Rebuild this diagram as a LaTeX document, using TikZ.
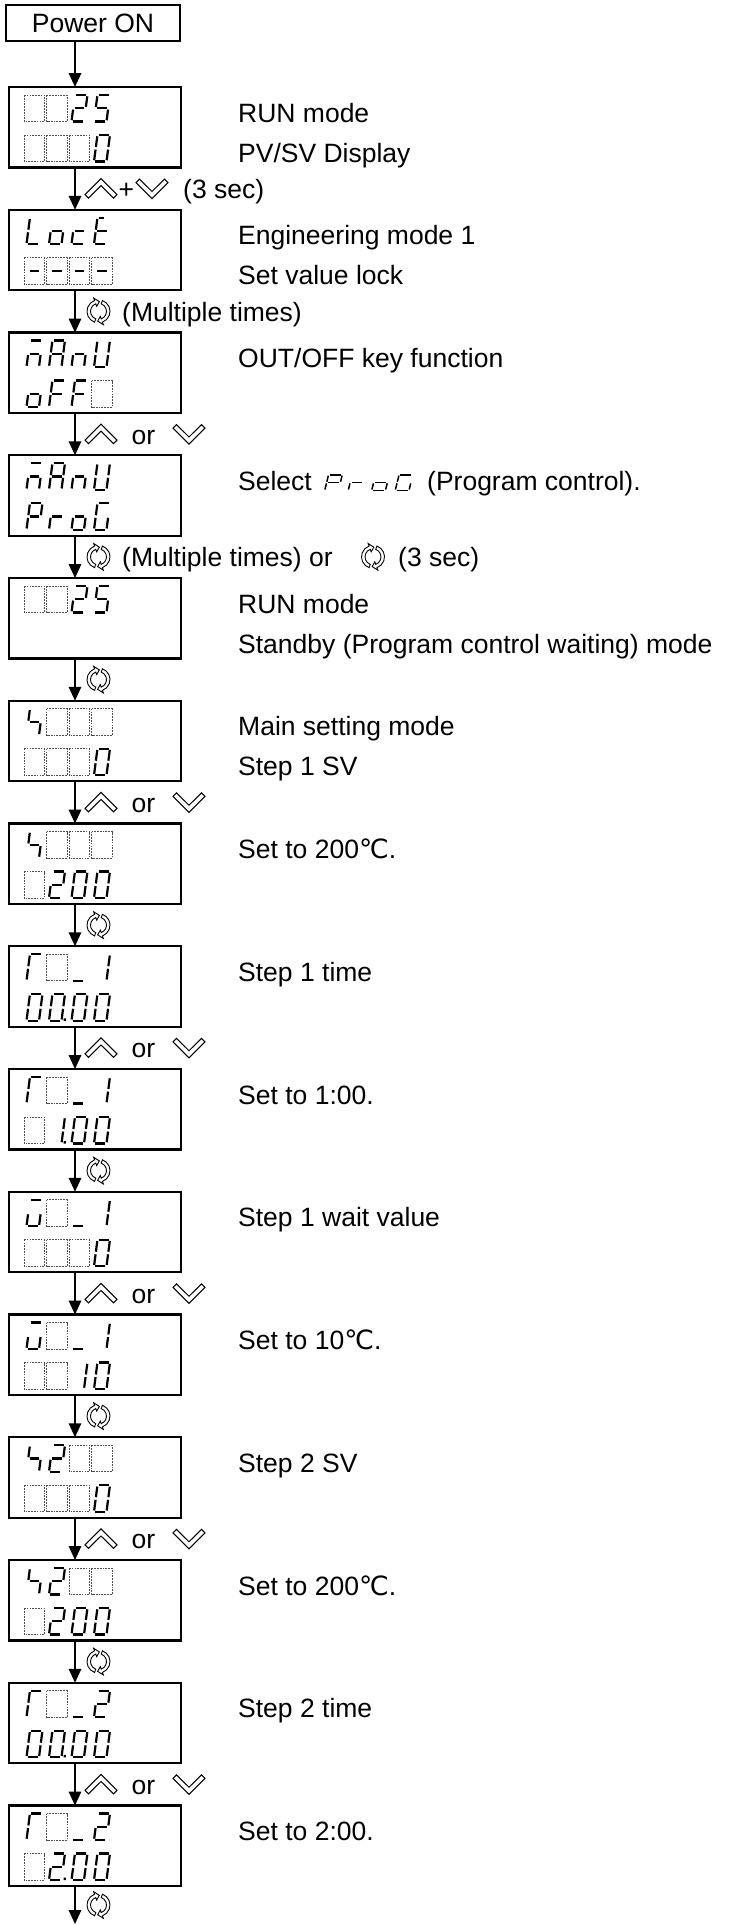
\documentclass[tikz,border=0pt]{standalone}
\usepackage{fontspec}
\setmainfont{Liberation Sans}
\newfontfamily\symfont{DejaVu Sans}
\usetikzlibrary{arrows.meta}
\newcommand\fsz{\fontsize{26.5bp}{30bp}\selectfont}
% seven-segment pieces (local frame: origin at bottom-left of cell, y negative = up)
\newcommand\SGa{\draw[segline] (3.8,-26.5) -- (13.7,-26.5);}
\newcommand\SGb{\draw[segline] (15,-25.2) -- (15,-14.55);}
\newcommand\SGc{\draw[segline] (15,-11.95) -- (15,-1.3);}
\newcommand\SGd{\draw[segline] (3.8,0) -- (13.7,0);}
\newcommand\SGe{\draw[segline] (2.5,-11.95) -- (2.5,-1.3);}
\newcommand\SGf{\draw[segline] (2.5,-25.2) -- (2.5,-14.55);}
\newcommand\SGg{\draw[segline] (3.8,-13.25) -- (13.7,-13.25);}
\newcommand\SGk{\draw[segline] (3.8,-26.5) -- (8.6,-26.5);}
\newcommand\SGp{\fill (17,-2.3) rectangle (19.3,0);}
\newcommand\gyZero{a,b,c,d,e,f}
\newcommand\gyZp{a,b,c,d,e,f,p}
\newcommand\gyOne{b,c}
\newcommand\gyOnep{b,c,p}
\newcommand\gyTwo{a,b,g,e,d}
\newcommand\gyTwop{a,b,g,e,d,p}
\newcommand\gyFive{a,f,g,c,d}
\newcommand\gyL{f,e,d}
\newcommand\gyo{g,c,d,e}
\newcommand\gyc{g,e,d}
\newcommand\gyk{k,f,e,g,d}
\newcommand\gym{a,e,g,c}
\newcommand\gyA{a,b,c,e,f,g}
\newcommand\gyn{e,g,c}
\newcommand\gyU{b,c,d,e,f}
\newcommand\gyF{a,f,g,e}
\newcommand\gyP{a,b,f,g,e}
\newcommand\gyr{e,g}
\newcommand\gyG{a,f,e,d,c}
\newcommand\gyS{f,g,c}
\newcommand\gyt{a,f,e}
\newcommand\gyw{a,e,d,c}
\newcommand\gyus{d}
\newcommand\gydash{g}
% empty (dashed) digit cell and glyph cell
\newcommand\EC[2]{\draw[cellbox] ({24+22.5*#1},#2) rectangle ++(20.5,26.5);}
\newcommand\GC[3]{\begin{scope}[shift={({24+22.5*#1},{#2+26.5})},xslant=0.13]\foreach \segname in #3 {\csname SG\segname\endcsname}\end{scope}}
\newcommand\GI[3]{\begin{scope}[shift={(#1,#2)},xscale=1.1,yscale=0.58,xslant=0.13,segline/.style={line width=1.5bp,line cap=butt}]\foreach \segname in #3 {\csname SG\segname\endcsname}\end{scope}}
\newcommand\setrows[1]{%
  \pgfmathsetmacro\Ttop{87+122.75*(#1-1)}%
  \pgfmathsetmacro\RowA{\Ttop+8}%
  \pgfmathsetmacro\RowB{\Ttop+48}%
  \pgfmathsetmacro\TxA{\Ttop+35}%
  \pgfmathsetmacro\TxB{\Ttop+75}%
  \pgfmathsetmacro\GapY{\Ttop+101.6}%
  \pgfmathsetmacro\GapB{\GapY+10}}
\newcommand\UpOrDown[1]{\pic at (101,\GapY) {upkey}; \node[lbl] (or#1) at (131.5,\GapB) {or}; \pic at (189,\GapY) {dnkey};}
\newcommand\RotOnly{\pic at (98.5,\GapY) {rotkey};}
\tikzset{
  dispbox/.style={draw, line width=2.4bp, minimum width=172bp, minimum height=80.5bp, inner sep=0pt, outer sep=0pt, anchor=north west},
  pwrbox/.style={draw, line width=2.4bp, minimum width=174bp, minimum height=36bp, inner sep=0pt, outer sep=0pt, anchor=north west, font=\fsz},
  conn/.style={line width=1.7bp, -{Triangle[length=14bp,width=12.5bp]}},
  segline/.style={line width=2.2bp, line cap=butt},
  cellbox/.style={draw=black!70, line width=0.7bp, dash pattern=on 1.7bp off 1.1bp},
  desc/.style={anchor=base west, inner sep=0pt, font=\fsz},
  lbl/.style={anchor=base west, inner sep=0pt, font=\fsz},
  keyline/.style={line width=1bp, fill=white, line join=miter},
  upkey/.pic={\filldraw[keyline] (-16,6) -- (0,-10) -- (16,6) -- (12.5,9.5) -- (0,-2.9) -- (-12.5,9.5) -- cycle;},
  dnkey/.pic={\filldraw[keyline] (-16,-6) -- (0,10) -- (16,-6) -- (12.5,-9.5) -- (0,2.9) -- (-12.5,-9.5) -- cycle;},
  rotkey/.pic={\foreach \ang in {110,290}{\filldraw[line width=0.9bp, fill=white] (\ang:11.5) arc[start angle=\ang, end angle={\ang+140}, radius=11.5] -- ({\ang+140}:14.2) -- ({\ang+165}:9.75) -- ({\ang+140}:5.3) -- ({\ang+140}:8) arc[start angle={\ang+140}, end angle=\ang, radius=8] -- cycle;}}
}
\begin{document}
\begin{tikzpicture}[x=1bp,y=-1bp]
\useasboundingbox (0,0) rectangle (733,1925);
\coordinate (ax) at (75,0);
\coordinate (endpt) at (75,1924);
\node[pwrbox] (pon) at (6,5) {Power ON};

% ---- box 1
\setrows{1}
\node[dispbox] (b1) at (9,\Ttop) {};
\EC{0}{\RowA}\EC{1}{\RowA}\GC{2}{\RowA}{\gyTwo}\GC{3}{\RowA}{\gyFive}
\EC{0}{\RowB}\EC{1}{\RowB}\EC{2}{\RowB}\GC{3}{\RowB}{\gyZero}
\node[desc] (t1a) at (238,\TxA) {RUN mode};
\node[desc] (t1b) at (238,\TxB) {PV/SV Display};
\pic at (101,\GapY) {upkey};
\node[lbl] (plus1) at (118.5,\GapB) {+};
\pic at (152,\GapY) {dnkey};
\node[lbl] (l1) at (183,\GapB) {(3 sec)};

% ---- box 2
\setrows{2}
\node[dispbox] (b2) at (9,\Ttop) {};
\GC{0}{\RowA}{\gyL}\GC{1}{\RowA}{\gyo}\GC{2}{\RowA}{\gyc}\GC{3}{\RowA}{\gyk}
\EC{0}{\RowB}\EC{1}{\RowB}\EC{2}{\RowB}\EC{3}{\RowB}
\GC{0}{\RowB}{\gydash}\GC{1}{\RowB}{\gydash}\GC{2}{\RowB}{\gydash}\GC{3}{\RowB}{\gydash}
\node[desc] (t2a) at (238,\TxA) {Engineering mode 1};
\node[desc] (t2b) at (238,\TxB) {Set value lock};
\RotOnly
\node[lbl] (l2) at (122,\GapB) {(Multiple times)};

% ---- box 3
\setrows{3}
\node[dispbox] (b3) at (9,\Ttop) {};
\GC{0}{\RowA}{\gym}\GC{1}{\RowA}{\gyA}\GC{2}{\RowA}{\gyn}\GC{3}{\RowA}{\gyU}
\GC{0}{\RowB}{\gyo}\GC{1}{\RowB}{\gyF}\GC{2}{\RowB}{\gyF}\EC{3}{\RowB}
\node[desc] (t3a) at (238,\TxA) {OUT/OFF key function};
\UpOrDown{3}

% ---- box 4
\setrows{4}
\node[dispbox] (b4) at (9,\Ttop) {};
\GC{0}{\RowA}{\gym}\GC{1}{\RowA}{\gyA}\GC{2}{\RowA}{\gyn}\GC{3}{\RowA}{\gyU}
\GC{0}{\RowB}{\gyP}\GC{1}{\RowB}{\gyr}\GC{2}{\RowB}{\gyo}\GC{3}{\RowB}{\gyG}
\node[desc] (t4a) at (238,\TxA) {Select};
\GI{322}{\TxA}{\gyP}\GI{345.5}{\TxA}{\gyr}\GI{369}{\TxA}{\gyo}\GI{392.5}{\TxA}{\gyG}
\node[desc] (t4b) at (427,\TxA) {(Program control).};
\RotOnly
\node[lbl] (l4a) at (122,\GapB) {(Multiple times) or};
\pic at (373,\GapY) {rotkey};
\node[lbl] (l4b) at (398,\GapB) {(3 sec)};

% ---- box 5
\setrows{5}
\node[dispbox] (b5) at (9,\Ttop) {};
\EC{0}{\RowA}\EC{1}{\RowA}\GC{2}{\RowA}{\gyTwo}\GC{3}{\RowA}{\gyFive}
\node[desc] (t5a) at (238,\TxA) {RUN mode};
\node[desc] (t5b) at (238,\TxB) {Standby (Program control waiting) mode};
\RotOnly

% ---- box 6
\setrows{6}
\node[dispbox] (b6) at (9,\Ttop) {};
\GC{0}{\RowA}{\gyS}\EC{1}{\RowA}\EC{2}{\RowA}\EC{3}{\RowA}
\EC{0}{\RowB}\EC{1}{\RowB}\EC{2}{\RowB}\GC{3}{\RowB}{\gyZero}
\node[desc] (t6a) at (238,\TxA) {Main setting mode};
\node[desc] (t6b) at (238,\TxB) {Step 1 SV};
\UpOrDown{6}

% ---- box 7
\setrows{7}
\node[dispbox] (b7) at (9,\Ttop) {};
\GC{0}{\RowA}{\gyS}\EC{1}{\RowA}\EC{2}{\RowA}\EC{3}{\RowA}
\EC{0}{\RowB}\GC{1}{\RowB}{\gyTwo}\GC{2}{\RowB}{\gyZero}\GC{3}{\RowB}{\gyZero}
\node[desc] (t7a) at (238,\TxA) {Set to 200{\symfont ℃}.};
\RotOnly

% ---- box 8
\setrows{8}
\node[dispbox] (b8) at (9,\Ttop) {};
\GC{0}{\RowA}{\gyt}\EC{1}{\RowA}\GC{2}{\RowA}{\gyus}\GC{3}{\RowA}{\gyOne}
\GC{0}{\RowB}{\gyZero}\GC{1}{\RowB}{\gyZp}\GC{2}{\RowB}{\gyZero}\GC{3}{\RowB}{\gyZero}
\node[desc] (t8a) at (238,\TxA) {Step 1 time};
\UpOrDown{8}

% ---- box 9
\setrows{9}
\node[dispbox] (b9) at (9,\Ttop) {};
\GC{0}{\RowA}{\gyt}\EC{1}{\RowA}\GC{2}{\RowA}{\gyus}\GC{3}{\RowA}{\gyOne}
\EC{0}{\RowB}\GC{1}{\RowB}{\gyOnep}\GC{2}{\RowB}{\gyZero}\GC{3}{\RowB}{\gyZero}
\node[desc] (t9a) at (238,\TxA) {Set to 1:00.};
\RotOnly

% ---- box 10
\setrows{10}
\node[dispbox] (b10) at (9,\Ttop) {};
\GC{0}{\RowA}{\gyw}\EC{1}{\RowA}\GC{2}{\RowA}{\gyus}\GC{3}{\RowA}{\gyOne}
\EC{0}{\RowB}\EC{1}{\RowB}\EC{2}{\RowB}\GC{3}{\RowB}{\gyZero}
\node[desc] (t10a) at (238,\TxA) {Step 1 wait value};
\UpOrDown{10}

% ---- box 11
\setrows{11}
\node[dispbox] (b11) at (9,\Ttop) {};
\GC{0}{\RowA}{\gyw}\EC{1}{\RowA}\GC{2}{\RowA}{\gyus}\GC{3}{\RowA}{\gyOne}
\EC{0}{\RowB}\EC{1}{\RowB}\GC{2}{\RowB}{\gyOne}\GC{3}{\RowB}{\gyZero}
\node[desc] (t11a) at (238,\TxA) {Set to 10{\symfont ℃}.};
\RotOnly

% ---- box 12
\setrows{12}
\node[dispbox] (b12) at (9,\Ttop) {};
\GC{0}{\RowA}{\gyS}\GC{1}{\RowA}{\gyTwo}\EC{2}{\RowA}\EC{3}{\RowA}
\EC{0}{\RowB}\EC{1}{\RowB}\EC{2}{\RowB}\GC{3}{\RowB}{\gyZero}
\node[desc] (t12a) at (238,\TxA) {Step 2 SV};
\UpOrDown{12}

% ---- box 13
\setrows{13}
\node[dispbox] (b13) at (9,\Ttop) {};
\GC{0}{\RowA}{\gyS}\GC{1}{\RowA}{\gyTwo}\EC{2}{\RowA}\EC{3}{\RowA}
\EC{0}{\RowB}\GC{1}{\RowB}{\gyTwo}\GC{2}{\RowB}{\gyZero}\GC{3}{\RowB}{\gyZero}
\node[desc] (t13a) at (238,\TxA) {Set to 200{\symfont ℃}.};
\RotOnly

% ---- box 14
\setrows{14}
\node[dispbox] (b14) at (9,\Ttop) {};
\GC{0}{\RowA}{\gyt}\EC{1}{\RowA}\GC{2}{\RowA}{\gyus}\GC{3}{\RowA}{\gyTwo}
\GC{0}{\RowB}{\gyZero}\GC{1}{\RowB}{\gyZp}\GC{2}{\RowB}{\gyZero}\GC{3}{\RowB}{\gyZero}
\node[desc] (t14a) at (238,\TxA) {Step 2 time};
\UpOrDown{14}

% ---- box 15
\setrows{15}
\node[dispbox] (b15) at (9,\Ttop) {};
\GC{0}{\RowA}{\gyt}\EC{1}{\RowA}\GC{2}{\RowA}{\gyus}\GC{3}{\RowA}{\gyTwo}
\EC{0}{\RowB}\GC{1}{\RowB}{\gyTwop}\GC{2}{\RowB}{\gyZero}\GC{3}{\RowB}{\gyZero}
\node[desc] (t15a) at (238,\TxA) {Set to 2:00.};
\pic at (98.5,1905) {rotkey};

% ---- connectors
\draw[conn] (pon.south -| ax) -- (b1.north -| ax);
\foreach \i [evaluate=\i as \j using int(\i+1)] in {1,...,14} {\draw[conn] (b\i.south -| ax) -- (b\j.north -| ax);}
\draw[conn] (b15.south -| ax) -- (endpt);
\end{tikzpicture}
\end{document}
